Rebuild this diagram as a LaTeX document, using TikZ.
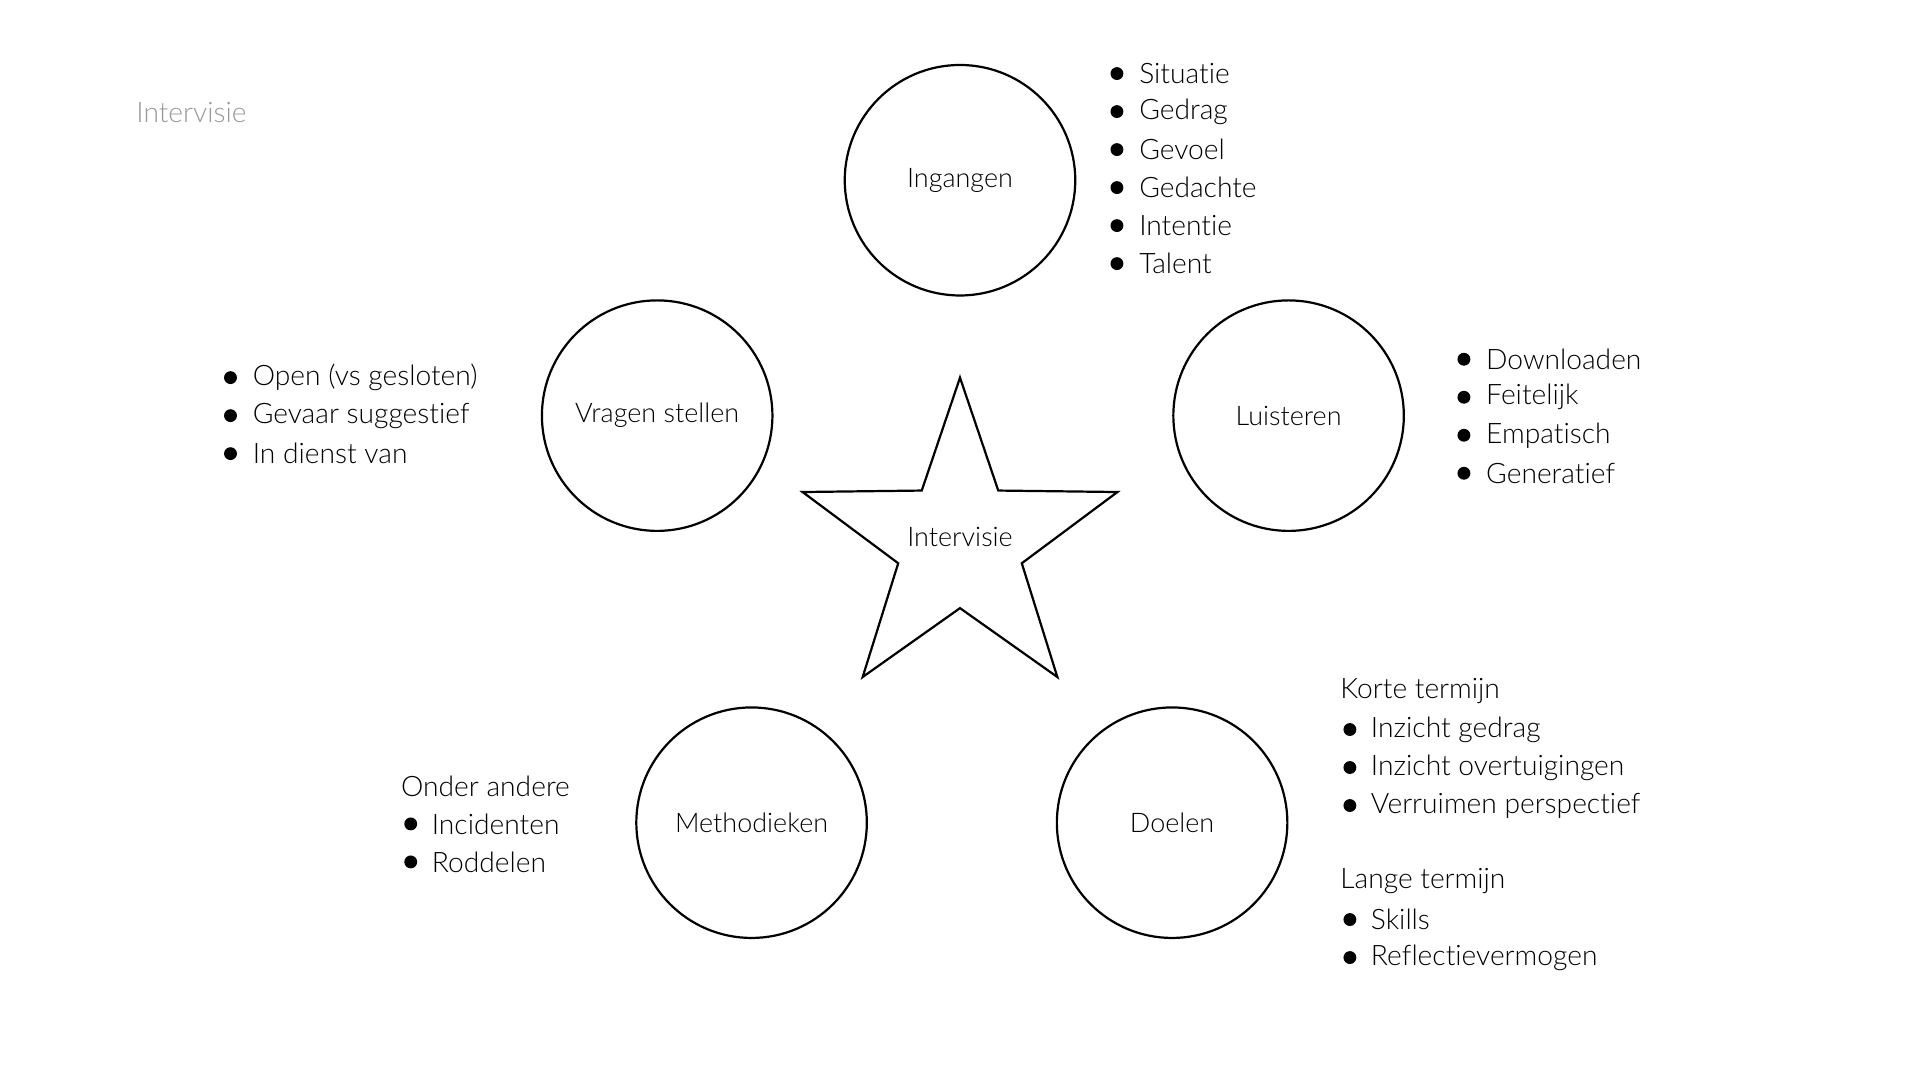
\documentclass[tikz,border=0pt]{standalone}
\usepackage{fontspec}
\setmainfont{Lato}[UprightFont={* Light},Ligatures={NoCommon}]
\begin{document}
\begin{tikzpicture}[x=1pt,y=-1pt,
  ring/.style={draw,line width=1.8pt,circle,minimum size=188pt,inner sep=0pt,font=\fontsize{22}{26}\selectfont},
  txt/.style={anchor=west,inner sep=0pt,font=\fontsize{23}{28}\selectfont},
  bul/.style={anchor=center,circle,fill,inner sep=0pt,minimum size=10.5pt}]
\useasboundingbox (0,0) rectangle (1566,881);
\node[txt,text=gray!80] (title) at (111,92) {Intervisie};
\node[ring] (ing) at (783,147) {Ingangen};
\node[ring] (vra) at (536,339) {Vragen stellen};
\node[ring] (lui) at (1051,339) {Luisteren};
\node[ring] (met) at (613,671) {Methodieken};
\node[ring] (doe) at (956,671) {Doelen};
\draw[line width=1.8pt,line join=miter]
  (783,308) -- (814.2,400.1) -- (911.4,401.3) -- (833.4,459.4) -- (862.4,552.2)
  -- (783,496) -- (703.6,552.2) -- (732.6,459.4) -- (654.6,401.3) -- (751.8,400.1) -- cycle;
\node[font=\fontsize{22}{26}\selectfont] (star) at (783,438) {Intervisie};
\foreach \t [count=\k] in {Situatie,Gedrag,Gevoel,Gedachte,Intentie,Talent}{
  \node[bul] (ib\k) at (911,{29+31*\k}) {};
  \node[txt] (it\k) at (929,{29+31*\k}) {\t};}
\foreach \t [count=\k] in {Open (vs gesloten),Gevaar suggestief,In dienst van}{
  \node[bul] (vb\k) at (188,{277+31*\k}) {};
  \node[txt] (vt\k) at (206,{277+31*\k}) {\t};}
\foreach \t [count=\k] in {Downloaden,Feitelijk,Empatisch,Generatief}{
  \node[bul] (lb\k) at (1194,{262+31*\k}) {};
  \node[txt] (lt\k) at (1212,{262+31*\k}) {\t};}
\node[txt] (mh) at (327,641) {Onder andere};
\foreach \t [count=\k] in {Incidenten,Roddelen}{
  \node[bul] (mb\k) at (335,{641+31*\k}) {};
  \node[txt] (mt\k) at (352,{641+31*\k}) {\t};}
\node[txt] (dh1) at (1093,564) {Korte termijn};
\foreach \t [count=\k] in {Inzicht gedrag,Inzicht overtuigingen,Verruimen perspectief}{
  \node[bul] (db\k) at (1101,{564+31*\k}) {};
  \node[txt] (dt\k) at (1118,{564+31*\k}) {\t};}
\node[txt] (dh2) at (1093,719) {Lange termijn};
\foreach \t [count=\k] in {Skills,Reflectievermogen}{
  \node[bul] (eb\k) at (1101,{719+31*\k}) {};
  \node[txt] (et\k) at (1118,{719+31*\k}) {\t};}
\end{tikzpicture}
\end{document}
